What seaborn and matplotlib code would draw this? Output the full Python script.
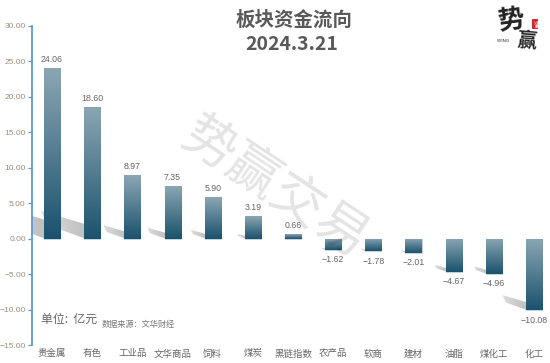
import numpy as np
import pandas as pd
import matplotlib
matplotlib.use("Agg")
import matplotlib.pyplot as plt
from matplotlib.colors import LinearSegmentedColormap
from matplotlib.patches import Polygon
import seaborn as sns

categories = ["贵金属", "有色", "工业品", "文华商品", "饲料", "煤炭", "黑链指数",
              "农产品", "软商", "建材", "油脂", "煤化工", "化工"]
values = [24.06, 18.60, 8.97, 7.35, 5.90, 3.19, 0.66, -1.62, -1.78, -2.01, -4.67, -4.96, -10.08]
value_labels = ["24.06", "18.60", "8.97", "7.35", "5.90", "3.19", "0.66",
                "-1.62", "-1.78", "-2.01", "-4.67", "-4.96", "-10.08"]
y_ticks = [30, 25, 20, 15, 10, 5, 0, -5, -10, -15]

sns.set_theme(style="white")
plt.rcParams["font.family"] = ["Noto Sans CJK SC", "DejaVu Sans"]
plt.rcParams["axes.unicode_minus"] = False

W, H = 550, 363
fig = plt.figure(figsize=(W / 100, H / 100), dpi=100, facecolor="white")
ax = fig.add_axes([32 / W, 1 - 345 / H, (W - 32) / W, (345 - 25.7) / H])

df = pd.DataFrame({"cat": categories, "val": values})
sns.barplot(data=df, x="cat", y="val", order=categories, ax=ax, width=0.4,
            color="#8aa5b2", saturation=1, edgecolor="#c4d3da", linewidth=0.8, zorder=3)

cmap = LinearSegmentedColormap.from_list("bar", ["#8ba6b3", "#1a526d"])
grad = np.linspace(0, 1, 128).reshape(-1, 1)
bar_half = 0.2
for patch in list(ax.patches):
    x0, w = patch.get_x(), patch.get_width()
    y0, h = patch.get_y(), patch.get_height()
    top, bot = max(y0, y0 + h), min(y0, y0 + h)
    im = ax.imshow(grad, extent=[x0, x0 + w, bot, top], cmap=cmap, aspect="auto",
                   zorder=3.5, interpolation="bilinear")
    im.set_clip_path(patch)

# skewed drop shadows, scaled from each bar's value, fading away from the bar
shadow_cmap = LinearSegmentedColormap.from_list("shadow", ["#dedede", "#bfbfbf"])
shadow_grad = np.linspace(0, 1, 64).reshape(1, -1)
for i, v in enumerate(values):
    h = abs(v)
    base = min(v, 0)
    left = i - bar_half
    dx = 0.0582 * h
    pts = [(left + 0.02, base),
           (left + 0.02, base + 0.11 * h),
           (left - dx, base + 0.21 * h),
           (left - 0.85 * dx, base + 0.105 * h)]
    poly = Polygon(pts, closed=True, facecolor="none", edgecolor="none", zorder=2)
    ax.add_patch(poly)
    sim = ax.imshow(shadow_grad, extent=[left - dx, left + 0.02, base, base + 0.22 * h],
                    cmap=shadow_cmap, aspect="auto", zorder=2, interpolation="bilinear")
    sim.set_clip_path(poly)
ax.set_xlim(-0.5, 12.4)
ax.set_ylim(-15, 30)

for i, (v, s) in enumerate(zip(values, value_labels)):
    off = 1.2 if v > 0 else -1.4
    ax.text(i, v + off, s.replace("-", "−"), ha="center", va="center", fontsize=6.3,
            color="#666666", family=["Liberation Sans"], zorder=5)

ax.set_yticks(y_ticks)
ax.set_yticklabels([f"{t:.2f}".replace("-", "−") for t in y_ticks],
                   fontsize=6.0, color="#a08d78", family=["Liberation Sans"])
ax.tick_params(axis="y", length=3, width=0.9, color="#5b9bd5", pad=1.5, left=True)
ax.tick_params(axis="x", length=0, pad=3.2)
ax.set_xticks(range(len(categories)))
ax.set_xticklabels(categories, fontsize=6.8, color="#666666")
ax.set_xlabel("")
ax.set_ylabel("")
for side in ["top", "right", "bottom"]:
    ax.spines[side].set_visible(False)
ax.spines["left"].set_color("#5b9bd5")
ax.spines["left"].set_linewidth(1.3)

# title
fig.text(294 / W, 1 - 20 / H, "板块资金流向", ha="center", va="center", fontsize=14,
         fontweight="bold", color="#595959")
fig.text(292 / W, 1 - 44 / H, "2024.3.21", ha="center", va="center", fontsize=14,
         fontweight="bold", color="#595959")

# unit + source
fig.text(41 / W, 1 - 319 / H, "单位:  亿元", ha="left", va="center", fontsize=8.6, color="#666666")
fig.text(102 / W, 1 - 324 / H, "数据来源：文华财经", ha="left", va="center", fontsize=5.9, color="#777777")

# watermark
fig.text(275 / W, 1 - 188 / H, "势赢交易", ha="center", va="center", rotation=-33.5,
         fontsize=38, color="black", alpha=0.11, zorder=1)

# logo
fig.text(511 / W, 1 - 21 / H, "势", ha="center", va="center", fontsize=19, fontweight="black",
         color="#222222", rotation=8)
fig.text(527 / W, 1 - 41 / H, "赢", ha="center", va="center", fontsize=14, fontweight="black",
         color="#222222", rotation=-5)
fig.text(503 / W, 1 - 41 / H, "SYING", ha="center", va="center", fontsize=3.2, color="#333333",
         family=["DejaVu Sans"])
fig.text(535 / W, 1 - 24 / H, "交易", ha="center", va="center", fontsize=3, color="white",
         rotation=-90, bbox=dict(boxstyle="round,pad=0.2", fc="#d2232a", ec="none"))

fig.savefig("out.png", dpi=100, facecolor="white")
